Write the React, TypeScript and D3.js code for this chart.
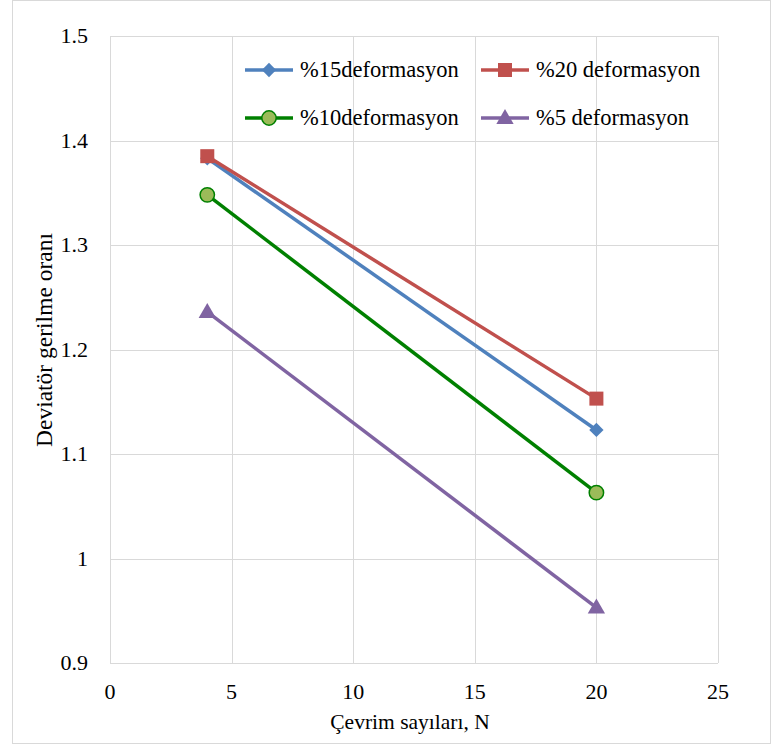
import { useEffect, useRef } from 'react'
import * as d3 from 'd3'

const cycles = [4, 20]
const seriesNames = ['%15deformasyon', '%20 deformasyon', '%10deformasyon', '%5 deformasyon']
const def15 = [1.383, 1.123]
const def20 = [1.385, 1.153]
const def10 = [1.348, 1.063]
const def5 = [1.236, 0.953]
const xTicks = [0, 5, 10, 15, 20, 25]
const yTicks = [0.9, 1, 1.1, 1.2, 1.3, 1.4, 1.5]

const W = 775
const H = 747
const FONT = '"Liberation Serif", "Times New Roman", serif'

export default function App() {
  const ref = useRef<SVGSVGElement | null>(null)

  useEffect(() => {
    document.body.style.margin = '0'
    if (!ref.current) return
    const svg = d3.select(ref.current)
    svg.selectAll('*').remove()

    const left = 110, right = 718, top = 36, bottom = 663
    const x = d3.scaleLinear().domain([0, 25]).range([left, right])
    const y = d3.scaleLinear().domain([0.9, 1.5]).range([bottom, top])

    // chart border
    svg.append('rect')
      .attr('x', 12.5).attr('y', 0.5)
      .attr('width', 758).attr('height', 743)
      .attr('fill', 'white')
      .attr('stroke', '#d9d9d9')

    // grid
    svg.append('g').selectAll('line')
      .data(yTicks)
      .enter().append('line')
      .attr('x1', left).attr('x2', right)
      .attr('y1', d => Math.round(y(d)) + 0.5).attr('y2', d => Math.round(y(d)) + 0.5)
      .attr('stroke', '#d9d9d9')
    svg.append('g').selectAll('line')
      .data(xTicks)
      .enter().append('line')
      .attr('y1', top).attr('y2', bottom)
      .attr('x1', d => Math.round(x(d)) + 0.5).attr('x2', d => Math.round(x(d)) + 0.5)
      .attr('stroke', '#d9d9d9')

    // tick labels
    svg.append('g').selectAll('text')
      .data(yTicks)
      .enter().append('text')
      .attr('x', 88).attr('y', d => y(d) + 7)
      .attr('text-anchor', 'end')
      .attr('font-family', FONT).attr('font-size', 22)
      .text(d => String(d))
    svg.append('g').selectAll('text')
      .data(xTicks)
      .enter().append('text')
      .attr('x', d => x(d)).attr('y', 699)
      .attr('text-anchor', 'middle')
      .attr('font-family', FONT).attr('font-size', 22)
      .text(d => String(d))

    // axis titles
    svg.append('text')
      .attr('x', 410).attr('y', 729)
      .attr('text-anchor', 'middle')
      .attr('font-family', FONT).attr('font-size', 21.5)
      .text('Çevrim sayıları, N')
    svg.append('text')
      .attr('transform', 'translate(52, 340) rotate(-90)')
      .attr('text-anchor', 'middle')
      .attr('font-family', FONT).attr('font-size', 23.5)
      .text('Deviatör gerilme oranı')

    const series = [
      { name: seriesNames[0], values: def15, stroke: '#4f81bd', fill: '#4f81bd', marker: 'diamond' },
      { name: seriesNames[1], values: def20, stroke: '#c0504d', fill: '#c0504d', marker: 'square' },
      { name: seriesNames[2], values: def10, stroke: '#008000', fill: '#9bbb59', marker: 'circle' },
      { name: seriesNames[3], values: def5, stroke: '#8064a2', fill: '#8064a2', marker: 'triangle' },
    ]

    const symbolType = (m: string) =>
      m === 'diamond' ? d3.symbolDiamond2 : m === 'square' ? d3.symbolSquare2 : d3.symbolTriangle
    const drawMarker = (g: any, s: any, cx: number, cy: number) => {
      if (s.marker === 'circle') {
        g.append('circle').attr('cx', cx).attr('cy', cy).attr('r', 7.2)
          .attr('fill', s.fill).attr('stroke', s.stroke).attr('stroke-width', 1.5)
      } else {
        const size = s.marker === 'diamond' ? 130 : s.marker === 'square' ? 250 : 130
        g.append('path')
          .attr('d', d3.symbol().type(symbolType(s.marker) as any).size(size)())
          .attr('transform', `translate(${cx},${cy + (s.marker === 'triangle' ? 1 : 0)})`)
          .attr('fill', s.fill)
      }
    }

    const line = d3.line<number>()
      .x((_, i) => x(cycles[i]))
      .y(d => y(d))

    // drawn in order 15, 20, 10, 5
    const plot = svg.append('g')
    series.forEach(s => {
      plot.append('path')
        .attr('d', line(s.values))
        .attr('fill', 'none')
        .attr('stroke', s.stroke)
        .attr('stroke-width', 3.5)
    })
    series.forEach(s => {
      s.values.forEach((v, i) => drawMarker(plot, s, x(cycles[i]), y(v)))
    })

    // legend
    const legendPos = [
      { lx: 245, ly: 70 },
      { lx: 481, ly: 70 },
      { lx: 245, ly: 118 },
      { lx: 481, ly: 118 },
    ]
    series.forEach((s, i) => {
      const { lx, ly } = legendPos[i]
      const g = svg.append('g')
      g.append('line')
        .attr('x1', lx).attr('x2', lx + 48)
        .attr('y1', ly).attr('y2', ly)
        .attr('stroke', s.stroke).attr('stroke-width', 3.5)
      drawMarker(g, s, lx + 24, ly)
      g.append('text')
        .attr('x', lx + 55).attr('y', ly + 7)
        .attr('font-family', FONT).attr('font-size', 22.5)
        .text(s.name)
    })
  }, [])

  return <svg ref={ref} width={W} height={H} style={{ display: 'block' }} />
}
